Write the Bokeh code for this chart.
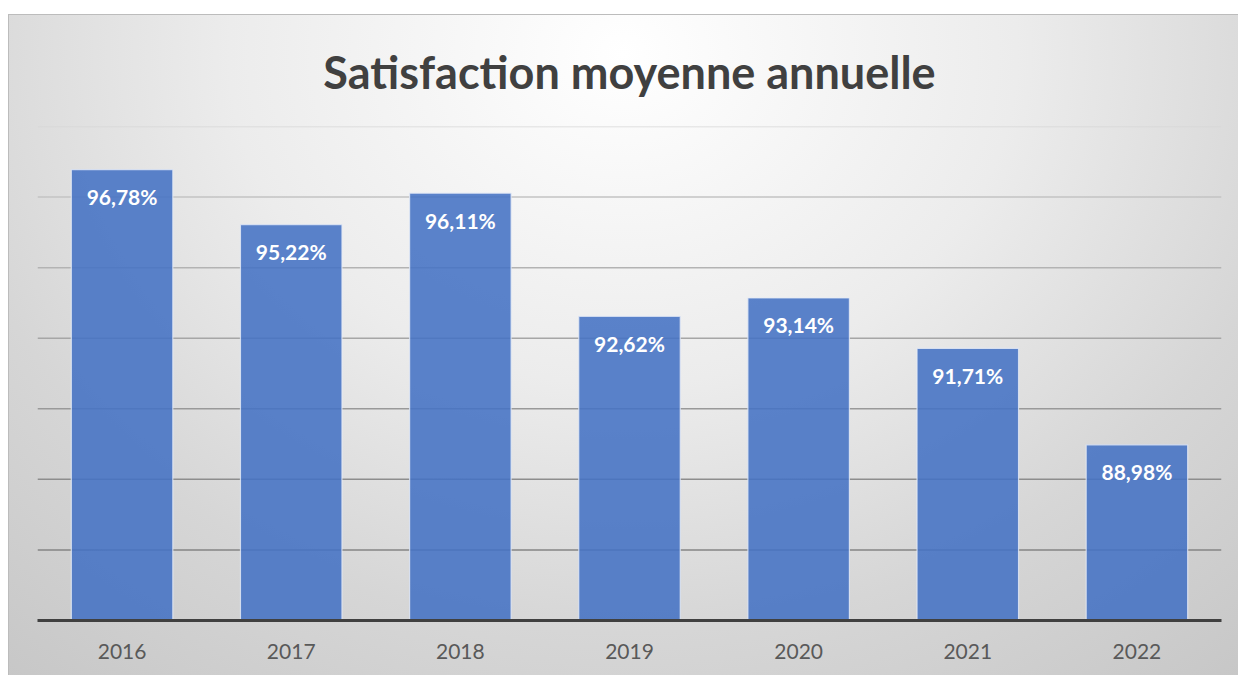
from bokeh.plotting import figure
from bokeh.models import FactorRange, Range1d, Span, ColumnDataSource
from bokeh.core.properties import value
from bokeh.embed import file_html
from bokeh.resources import INLINE

# ---- data ----
years = ["2016", "2017", "2018", "2019", "2020", "2021", "2022"]
satisfaction = [96.78, 95.22, 96.11, 92.62, 93.14, 91.71, 88.98]
labels = [f"{v:.2f}".replace(".", ",") + "%" for v in satisfaction]
grid_values = [86, 88, 90, 92, 94, 96, 98]
grid_colors = ["#858585", "#8d8d8d", "#999999", "#a6a6a6", "#b3b3b3", "#c3c3c3", "#d6d6d6"]
title_text = "Satisfaction moyenne annuelle"

src = ColumnDataSource(dict(x=years, top=satisfaction, label=labels))

p = figure(
    width=1230, height=661,
    x_range=FactorRange(*years, range_padding=0),
    y_range=Range1d(84, 98),
    output_backend="svg", toolbar_location=None,
    min_border_left=29, min_border_right=17, min_border_top=111, min_border_bottom=55,
)
p.styles = {
    "margin-top": "14px",
    "margin-left": "8px",
    "background": "radial-gradient(ellipse 80% 125% at 50% 6%, #ffffff 0%, #ececec 40%, #d6d6d6 70%, #c6c6c6 100%)",
    "box-shadow": "inset 1px 1px 0 #bcbcbc",
}
p.border_fill_color = None
p.background_fill_color = None
p.outline_line_color = None

p.title.text = title_text
p.title.align = "center"
p.title.text_font = "Lato"
p.title.text_font_size = "45px"
p.title.text_font_style = "bold"
p.title.text_color = "#404040"
p.title.standoff = 56

p.xgrid.grid_line_color = None
p.ygrid.grid_line_color = None
for gv, gc in zip(grid_values, grid_colors):
    p.add_layout(Span(location=gv, dimension="width", line_color=gc, line_width=1.5, level="underlay"))

p.vbar(x="x", top="top", bottom=84, width=0.6, source=src,
       fill_color="#4472C4", fill_alpha=0.88, line_color="#e4eaf6", line_width=1.2, line_alpha=0.8)

p.text(x="x", y="top", text="label", source=src, text_align="center", text_baseline="middle",
       y_offset=27, text_color="white", text_font=value("Lato"), text_font_size="21px",
       text_font_style="bold")

p.yaxis.visible = False
xa = p.xaxis[0]
xa.axis_line_color = "#404040"
xa.axis_line_width = 3
xa.major_tick_line_color = None
xa.minor_tick_line_color = None
xa.major_label_text_font = "Lato"
xa.major_label_text_font_size = "21px"
xa.major_label_text_color = "#595959"
xa.major_label_standoff = 17

open("out.html", "w").write(file_html(p, INLINE))
